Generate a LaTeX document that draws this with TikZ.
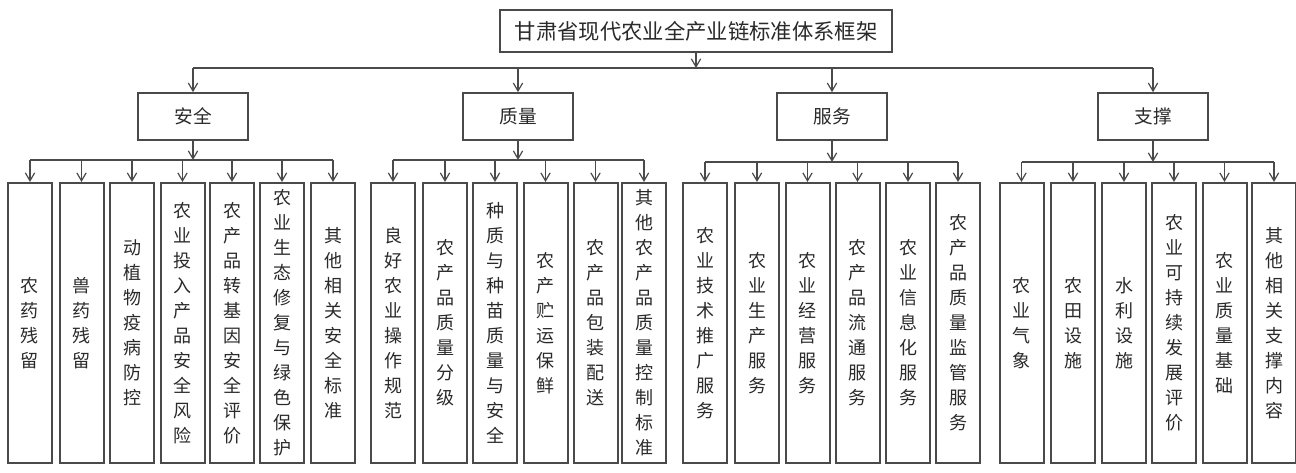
\documentclass[tikz,border=0pt]{standalone}
\usepackage{fontspec}
\newfontfamily\cjk{Noto Sans CJK SC}
\usetikzlibrary{arrows.meta}
\definecolor{ln}{HTML}{4A4A4A}
\definecolor{tx}{HTML}{2A2A2A}
\begin{document}
\begin{tikzpicture}[x=0.75pt,y=-0.75pt,
  box/.style={draw=ln,line width=1.5pt,fill=white,inner sep=0pt,text=tx},
  titlebox/.style={box,minimum width=294pt,minimum height=31.5pt,font=\cjk\fontsize{16}{18}\selectfont},
  catbox/.style={box,minimum width=82.5pt,minimum height=35pt,font=\cjk\fontsize{14}{16}\selectfont},
  leaf/.style={box,minimum width=33pt,minimum height=210pt,align=center,font=\cjk\fontsize{13.5}{18.75}\selectfont},
  conn/.style={draw=ln,line width=1.1pt},
  arr/.style={conn,-{Straight Barb[length=6pt,width=7pt,line width=0.9pt]}}
]
\useasboundingbox (0,0) rectangle (1296,473);
\fill[white] (0,0) rectangle (1296,473);

\node[titlebox] (T) at (696,31) {甘肃省现代农业全产业链标准体系框架};

\node[catbox] (A) at (193,116.5) {安全};
\node[catbox] (B) at (518,116.5) {质量};
\node[catbox] (C) at (832,116.5) {服务};
\node[catbox] (D) at (1153,116.5) {支撑};

\coordinate (yT) at (0,68);
\coordinate (yAB) at (0,160);
\coordinate (yCD) at (0,162);

% leaves of 安全
\node[leaf] (a1) at (30,323) {农\\药\\残\\留};
\node[leaf] (a2) at (81.5,323) {兽\\药\\残\\留};
\node[leaf] (a3) at (132,323) {动\\植\\物\\疫\\病\\防\\控};
\node[leaf] (a4) at (182.5,323) {农\\业\\投\\入\\产\\品\\安\\全\\风\\险};
\node[leaf] (a5) at (232,323) {农\\产\\品\\转\\基\\因\\安\\全\\评\\价};
\node[leaf] (a6) at (282,323) {农\\业\\生\\态\\修\\复\\与\\绿\\色\\保\\护};
\node[leaf] (a7) at (333,323) {其\\他\\相\\关\\安\\全\\标\\准};

% leaves of 质量
\node[leaf] (b1) at (393,323) {良\\好\\农\\业\\操\\作\\规\\范};
\node[leaf] (b2) at (445,323) {农\\产\\品\\质\\量\\分\\级};
\node[leaf] (b3) at (495,323) {种\\质\\与\\种\\苗\\质\\量\\与\\安\\全};
\node[leaf] (b4) at (545.5,323) {农\\产\\贮\\运\\保\\鲜};
\node[leaf] (b5) at (595.5,323) {农\\产\\品\\包\\装\\配\\送};
\node[leaf] (b6) at (644,323) {其\\他\\农\\产\\品\\质\\量\\控\\制\\标\\准};

% leaves of 服务
\node[leaf] (c1) at (705,323) {农\\业\\技\\术\\推\\广\\服\\务};
\node[leaf] (c2) at (757,323) {农\\业\\生\\产\\服\\务};
\node[leaf] (c3) at (807.5,323) {农\\业\\经\\营\\服\\务};
\node[leaf] (c4) at (857.5,323) {农\\产\\品\\流\\通\\服\\务};
\node[leaf] (c5) at (908,323) {农\\业\\信\\息\\化\\服\\务};
\node[leaf] (c6) at (958,323) {农\\产\\品\\质\\量\\监\\管\\服\\务};

% leaves of 支撑
\node[leaf] (d1) at (1021.5,323) {农\\业\\气\\象};
\node[leaf] (d2) at (1073,323) {农\\田\\设\\施};
\node[leaf] (d3) at (1124,323) {水\\利\\设\\施};
\node[leaf] (d4) at (1174,323) {农\\业\\可\\持\\续\\发\\展\\评\\价};
\node[leaf] (d5) at (1224.5,323) {农\\业\\质\\量\\基\\础};
\node[leaf] (d6) at (1274,323) {其\\他\\相\\关\\支\\撑\\内\\容};

% top level connectors
\draw[arr] (T.south) -- (T.south |- yT);
\draw[conn] (A.north |- yT) -- (D.north |- yT);
\foreach \n in {A,B,C,D} \draw[arr] (\n.north |- yT) -- (\n.north);

% group connectors
\draw[arr] (A.south) -- (A.south |- yAB);
\draw[conn] (a1.north |- yAB) -- (a7.north |- yAB);
\foreach \i in {1,...,7} \draw[arr] (a\i.north |- yAB) -- (a\i.north);

\draw[arr] (B.south) -- (B.south |- yAB);
\draw[conn] (b1.north |- yAB) -- (b6.north |- yAB);
\foreach \i in {1,...,6} \draw[arr] (b\i.north |- yAB) -- (b\i.north);

\draw[arr] (C.south) -- (C.south |- yCD);
\draw[conn] (c1.north |- yCD) -- (c6.north |- yCD);
\foreach \i in {1,...,6} \draw[arr] (c\i.north |- yCD) -- (c\i.north);

\draw[arr] (D.south) -- (D.south |- yCD);
\draw[conn] (d1.north |- yCD) -- (d6.north |- yCD);
\foreach \i in {1,...,6} \draw[arr] (d\i.north |- yCD) -- (d\i.north);
\end{tikzpicture}
\end{document}
